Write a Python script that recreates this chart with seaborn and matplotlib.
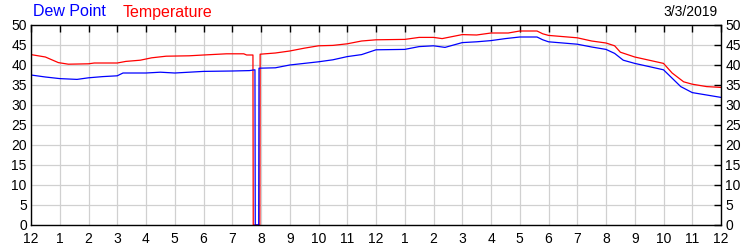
import matplotlib
matplotlib.use("Agg")
import matplotlib.pyplot as plt
import seaborn as sns
import pandas as pd

# ---- data ----
temp_hours = [0, 0.5, 0.95, 1.3, 2.0, 2.2, 3.0, 3.3, 3.8, 4.2, 4.7, 5.5, 6.0, 6.8, 7.4, 7.5, 7.72,
              7.73, 7.96, 7.97, 8.5, 9.0, 9.5, 10.0, 10.5, 11.0, 11.5, 12.0, 13.0, 13.5, 14.0, 14.3,
              15.0, 15.5, 16.0, 16.6, 17.0, 17.6, 17.8, 18.0, 19.0, 19.5, 20.0, 20.3, 20.5, 21.0,
              21.5, 22.0, 22.3, 22.7, 23.0, 23.5, 24.0]
temp_values = [42.6, 42.0, 40.6, 40.2, 40.3, 40.5, 40.5, 40.9, 41.2, 41.8, 42.2, 42.3, 42.5, 42.8, 42.8, 42.5, 42.5,
               0.0, 0.0, 42.7, 43.0, 43.5, 44.2, 44.8, 44.9, 45.3, 46.0, 46.3, 46.4, 46.9, 46.9, 46.6,
               47.6, 47.5, 48.0, 48.0, 48.5, 48.5, 47.8, 47.4, 46.8, 46.0, 45.5, 44.8, 43.2, 42.0,
               41.2, 40.4, 38.0, 35.8, 35.2, 34.6, 34.4]

dew_hours = [0, 0.5, 1.0, 1.6, 2.0, 2.5, 3.0, 3.2, 4.0, 4.5, 5.0, 5.5, 6.0, 7.0, 7.6, 7.79,
             7.8, 7.92, 7.93, 8.5, 9.0, 9.5, 10.0, 10.5, 11.0, 11.5, 12.0, 13.0, 13.5, 14.0, 14.4,
             15.0, 15.5, 16.0, 16.5, 17.0, 17.6, 17.8, 18.0, 19.0, 19.5, 20.0, 20.3, 20.6, 21.0,
             21.5, 22.0, 22.3, 22.6, 23.0, 23.5, 24.0]
dew_values = [37.5, 37.0, 36.6, 36.4, 36.8, 37.1, 37.3, 38.0, 38.0, 38.2, 38.0, 38.2, 38.4, 38.5, 38.6, 38.8,
              0.0, 0.0, 39.2, 39.3, 40.0, 40.4, 40.8, 41.3, 42.1, 42.6, 43.8, 43.9, 44.6, 44.8, 44.4,
              45.6, 45.8, 46.1, 46.6, 47.0, 47.0, 46.3, 45.8, 45.2, 44.5, 43.9, 42.9, 41.2, 40.4,
              39.6, 38.8, 36.7, 34.6, 33.1, 32.5, 31.9]

x_tick_labels = ["12", "1", "2", "3", "4", "5", "6", "7", "8", "9", "10", "11",
                 "12", "1", "2", "3", "4", "5", "6", "7", "8", "9", "10", "11", "12"]
y_ticks = [0, 5, 10, 15, 20, 25, 30, 35, 40, 45, 50]
date_label = "3/3/2019"

sns.set_style("white")
plt.rcParams['font.family'] = ['Liberation Sans', 'DejaVu Sans']

df_t = pd.DataFrame({"hour": temp_hours, "value": temp_values})
df_d = pd.DataFrame({"hour": dew_hours, "value": dew_values})

fig = plt.figure(figsize=(7.5, 2.5), dpi=100)
ax = fig.add_axes([31/750, 25/250, 690/750, 200/250])

sns.lineplot(data=df_t, x="hour", y="value", ax=ax, color="#ff0000", linewidth=0.9, sort=False,
             estimator=None)
sns.lineplot(data=df_d, x="hour", y="value", ax=ax, color="#0000ff", linewidth=0.9, sort=False,
             estimator=None)

ax.set_xlim(0, 24)
ax.set_ylim(0, 50)
ax.set_xticks(range(25))
ax.set_xticklabels(x_tick_labels)
ax.set_yticks(y_ticks)
ax.set_xlabel("")
ax.set_ylabel("")
ax.grid(True, color="#d0d0d0", linewidth=0.9)
ax.set_axisbelow(True)
for s in ax.spines.values():
    s.set_color("black")
    s.set_linewidth(1.0)
ax.tick_params(axis="both", direction="in", length=5, width=1, colors="black",
               labelsize=10, top=True, right=True, labelright=True)
ax.tick_params(axis="x", pad=5)
ax.tick_params(axis="y", pad=3)

fig.text(33/750, 1 - 12/250, "Dew Point", color="#0000ff", fontsize=11.5, va="center", ha="left")
fig.text(123/750, 1 - 12/250, "Temperature", color="#ff0000", fontsize=11.5, va="center", ha="left")
fig.text(718/750, 1 - 12/250, date_label, color="black", fontsize=10, va="center", ha="right")

fig.savefig("out.png", dpi=100)
